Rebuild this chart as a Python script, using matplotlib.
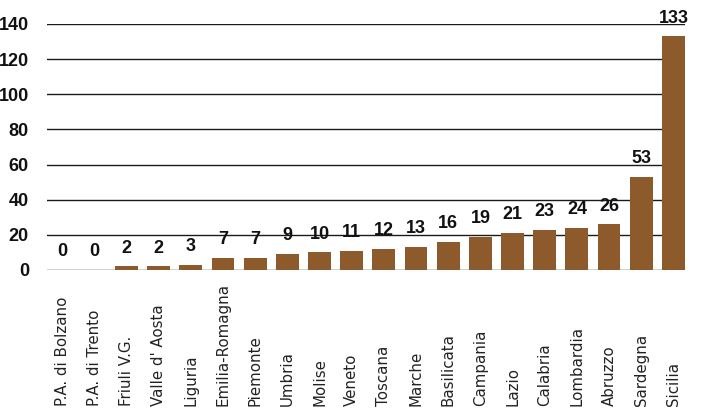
import matplotlib
matplotlib.use('Agg')
import matplotlib.pyplot as plt
import matplotlib.transforms as mtransforms

regions = ['P.A. di Bolzano', 'P.A. di Trento', 'Friuli V.G.', "Valle d' Aosta",
           'Liguria', 'Emilia-Romagna', 'Piemonte', 'Umbria', 'Molise', 'Veneto',
           'Toscana', 'Marche', 'Basilicata', 'Campania', 'Lazio', 'Calabria',
           'Lombardia', 'Abruzzo', 'Sardegna', 'Sicilia']
values = [0, 0, 2, 2, 3, 7, 7, 9, 10, 11, 12, 13, 16, 19, 21, 23, 24, 26, 53, 133]
yticks = [0, 20, 40, 60, 80, 100, 120, 140]

bar_color = '#8c5a2b'

fig = plt.figure(figsize=(7.06, 4.16), dpi=100)
ax = fig.add_axes([47 / 706, 1 - 270 / 416, (685 - 47) / 706, (270 - 24) / 416])

x = list(range(len(values)))
ax.bar(x, values, width=0.71, color=bar_color, zorder=3)

ax.set_xlim(-0.47, len(values) - 1 + 0.36)
ax.set_ylim(0, 140)
ax.set_yticks(yticks)
ax.grid(axis='y', color='#1a1a1a', linewidth=1.0, zorder=1)
for s in ax.spines.values():
    s.set_visible(False)
ax.tick_params(axis='y', length=0, pad=13, labelsize=13)
for lab in ax.get_yticklabels():
    lab.set_fontfamily('Liberation Sans')
    lab.set_fontweight('bold')
    lab.set_color('#111111')
ax.set_xticks([])

# value labels
for xi, v in zip(x, values):
    ax.annotate(str(v), (xi, v), xytext=(0, 7), textcoords='offset points',
                ha='center', va='bottom', fontsize=13, fontweight='bold',
                family='Liberation Sans', color='#111111', clip_on=False)

# category labels, bottom-aligned
trans = mtransforms.blended_transform_factory(ax.transData, fig.transFigure)
for xi, name in zip(x, regions):
    ax.text(xi, 1 - 406 / 416, name, rotation=90, ha='center', va='bottom',
            fontsize=10.8, family='DejaVu Sans', color='#222222', transform=trans)

fig.savefig('out.png', dpi=100)
